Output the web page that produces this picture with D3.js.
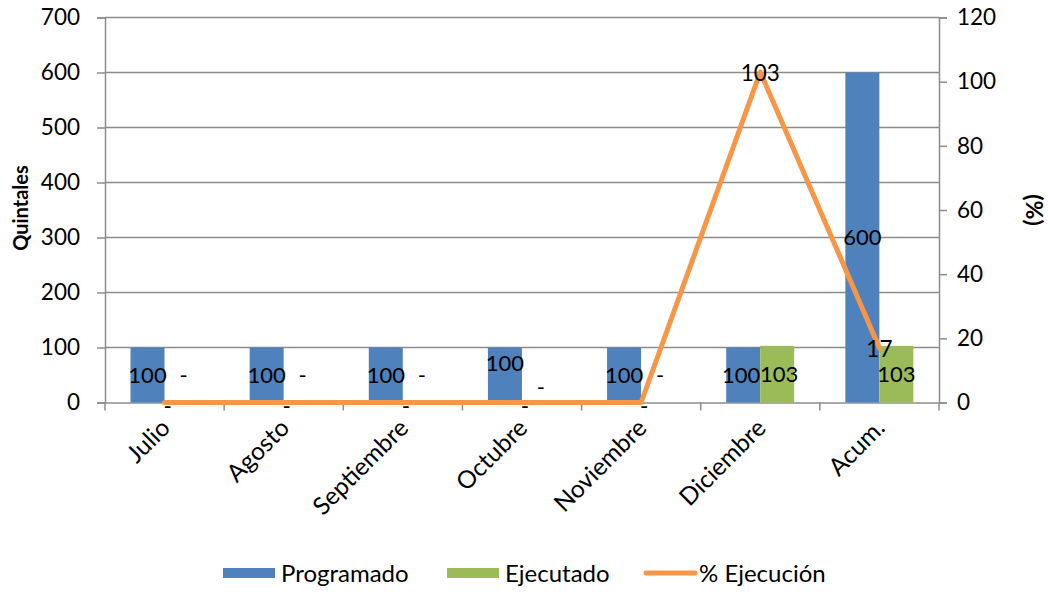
<!DOCTYPE html>
<html>
<head>
<meta charset="utf-8">
<script src="https://cdn.jsdelivr.net/npm/d3@7"></script>
<style>
  html, body { margin: 0; padding: 0; background: #fff; }
  svg { display: block; font-family: Lato, "Open Sans", sans-serif; }
</style>
</head>
<body>
<svg id="chart" width="1048" height="592"></svg>
<script>
const categories = ["Julio", "Agosto", "Septiembre", "Octubre", "Noviembre", "Diciembre", "Acum."];
const programado = [100, 100, 100, 100, 100, 100, 600];
const ejecutado = [0, 0, 0, 0, 0, 103, 103];
const ejecucionPct = [0, 0, 0, 0, 0, 103, 17];
const leftTicks = [0, 100, 200, 300, 400, 500, 600, 700];
const rightTicks = [0, 20, 40, 60, 80, 100, 120];
const seriesNames = ["Programado", "Ejecutado", "% Ejecución"];

const colors = { Programado: "#4F81BD", Ejecutado: "#9BBB59", line: "#F79646" };
const gridColor = "#8c8c8c";

const svg = d3.select("#chart");
const pLeft = 105, pRight = 939, pTop = 17.5, pBottom = 402.5;

const x = d3.scaleBand().domain(categories).range([pLeft, pRight]).padding(0);
const x1 = d3.scaleBand().domain(["Programado", "Ejecutado"]).range([25.5, 93.5]).padding(0);
const yL = d3.scaleLinear().domain([0, 700]).range([pBottom, pTop]);
const yR = d3.scaleLinear().domain([0, 120]).range([pBottom, pTop]);

// gridlines
svg.append("g").selectAll("line").data(leftTicks.filter(d => d > 0)).join("line")
  .attr("x1", pLeft).attr("x2", pRight)
  .attr("y1", d => yL(d)).attr("y2", d => yL(d))
  .attr("stroke", gridColor).attr("stroke-width", 1.5);

// left axis
const gl = svg.append("g").attr("transform", `translate(${pLeft},0)`)
  .call(d3.axisLeft(yL).tickValues(leftTicks).tickSize(8).tickPadding(17).tickFormat(d3.format("d")));
gl.select(".domain").attr("stroke", gridColor).attr("stroke-width", 1.5);
gl.selectAll(".tick line").attr("stroke", gridColor).attr("stroke-width", 1.5);
gl.selectAll(".tick text").attr("font-size", 22.5).attr("font-family", "Lato").attr("fill", "#000");

// right axis
const gr = svg.append("g").attr("transform", `translate(${pRight},0)`)
  .call(d3.axisRight(yR).tickValues(rightTicks).tickSize(8).tickPadding(10).tickFormat(d3.format("d")));
gr.select(".domain").attr("stroke", gridColor).attr("stroke-width", 1.5);
gr.selectAll(".tick line").attr("stroke", gridColor).attr("stroke-width", 1.5);
gr.selectAll(".tick text").attr("font-size", 22.5).attr("font-family", "Lato").attr("fill", "#000");

// bottom axis
const gb = svg.append("g").attr("transform", `translate(0,${pBottom})`)
  .call(d3.axisBottom(x).tickSize(0).tickFormat(""));
gb.select(".domain").attr("stroke", gridColor).attr("stroke-width", 1.5);
const boundaries = categories.map(c => x(c)).concat([pRight]);
svg.append("g").selectAll("line").data(boundaries).join("line")
  .attr("x1", d => d).attr("x2", d => d)
  .attr("y1", pBottom).attr("y2", pBottom + 8)
  .attr("stroke", gridColor).attr("stroke-width", 1.5);

// category labels
svg.append("g").selectAll("text").data(categories).join("text")
  .attr("transform", d => `translate(${x(d) + x.bandwidth() / 2 + 7},${pBottom + 27}) rotate(-45)`)
  .attr("text-anchor", "end")
  .attr("font-size", 24.5).attr("fill", "#000")
  .text(d => d);

// axis titles
svg.append("text").attr("transform", "translate(28,208) rotate(-90)")
  .attr("text-anchor", "middle").attr("font-size", 20).attr("font-weight", "bold").text("Quintales");
svg.append("text").attr("transform", "translate(1026,210) rotate(90)")
  .attr("text-anchor", "middle").attr("font-size", 23).attr("font-weight", "bold").text("(%)");

// bars
const barData = [];
categories.forEach((c, i) => {
  barData.push({ c, s: "Programado", v: programado[i], both: programado[i] > 0 && ejecutado[i] > 0 });
  barData.push({ c, s: "Ejecutado", v: ejecutado[i], both: programado[i] > 0 && ejecutado[i] > 0 });
});
svg.append("g").selectAll("rect").data(barData).join("rect")
  .attr("x", d => x(d.c) + x1(d.s))
  .attr("width", x1.bandwidth())
  .attr("y", d => yL(d.v))
  .attr("height", d => pBottom - yL(d.v))
  .attr("fill", d => colors[d.s]);

// line
const lineData = categories.map((c, i) => ({ c, v: ejecucionPct[i] }));
svg.append("path").datum(lineData)
  .attr("d", d3.line().x(d => x(d.c) + x.bandwidth() / 2).y(d => yR(d.v)))
  .attr("fill", "none").attr("stroke", colors.line).attr("stroke-width", 5)
  .attr("stroke-linejoin", "round").attr("stroke-linecap", "round");

// labels
const fmt = v => v === 0 ? "-" : String(v);
const nudge = { "Octubre": { Programado: -12, Ejecutado: 12 } };
svg.append("g").selectAll("text").data(barData).join("text")
  .attr("x", d => x(d.c) + x1(d.s) + x1.bandwidth() / 2 + (d.v === 0 ? 2 : 0)
    + (d.both && d.c !== "Acum." ? (d.s === "Programado" ? -2 : 2) : 0))
  .attr("y", d => (d.v === 0 ? yL(50) : (yL(d.v) + pBottom) / 2) + ((nudge[d.c] || {})[d.s] || 0))
  .attr("dy", "0.36em")
  .attr("text-anchor", "middle").attr("font-size", 22).attr("fill", "#000")
  .text(d => fmt(d.v));
svg.append("g").selectAll("text").data(lineData).join("text")
  .attr("x", d => x(d.c) + x.bandwidth() / 2 + (d.v === 0 ? 3 : 0))
  .attr("y", d => yR(d.v) + (d.v === 0 ? 3 : 1))
  .attr("dy", "0.36em")
  .attr("text-anchor", "middle").attr("font-size", 22.5).attr("fill", "#000")
  .text(d => fmt(d.v));

// legend
const legend = svg.append("g");
const lx = [223, 447, 644];
seriesNames.forEach((name, i) => {
  const g = legend.append("g").attr("transform", `translate(${lx[i]},573)`);
  if (i < 2) {
    g.append("rect").attr("x", 0).attr("y", -5).attr("width", 52).attr("height", 10)
      .attr("fill", colors[name]);
  } else {
    g.append("line").attr("x1", 2).attr("x2", 51).attr("y1", 0).attr("y2", 0)
      .attr("stroke", colors.line).attr("stroke-width", 5).attr("stroke-linecap", "round");
  }
  g.append("text").attr("x", i < 2 ? 58 : 55).attr("y", 0).attr("dy", "0.36em")
    .attr("font-size", 24).attr("fill", "#000").text(name);
});
</script>
</body>
</html>
